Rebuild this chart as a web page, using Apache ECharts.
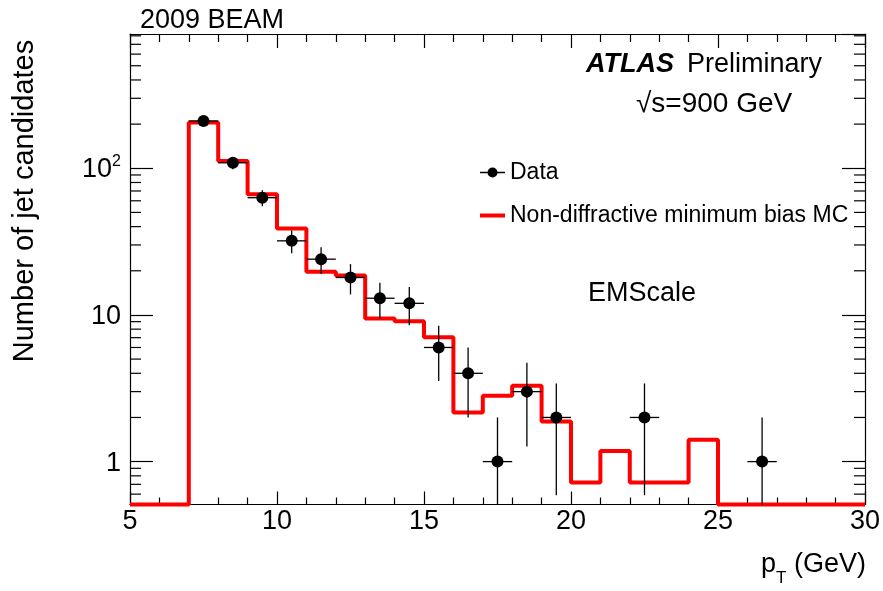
<!DOCTYPE html>
<html>
<head>
<meta charset="utf-8">
<script src="https://cdn.jsdelivr.net/npm/echarts@6/dist/echarts.min.js"></script>
<style>html,body{margin:0;padding:0;background:#fff;}#c{width:883px;height:591px;}</style>
</head>
<body>
<div id="c"></div>
<script>
// ---- data ----
const xMin = 5, xMax = 30;
const yMin = 0.51, yMax = 823;
// MC histogram: bin lower edges (width 1) and contents (0 = empty bin)
const mcBinEdges = [5,6,7,8,9,10,11,12,13,14,15,16,17,18,19,20,21,22,23,24,25,26,27,28,29,30];
const mcValues   = [0,0,205,112,66.5,38.9,19.7,18.6,9.45,9.05,7.05,2.16,2.81,3.29,1.88,0.72,1.18,0.72,0.72,1.41,0,0,0,0,0];
// Data points
const dataX   = [7.5,8.5,9.5,10.5,11.5,12.5,13.5,14.5,15.5,16.5,17.5,18.5,19.5,22.5,26.5];
const dataY   = [210,109,63,32,24,18,13,12,6,4,1,3,2,2,1];
const dataErr = [14.5,10.4,7.9,5.7,4.9,4.2,3.6,3.5,2.45,2.0,1.0,1.73,1.41,1.41,1.0];
const dataXErr = 0.5;
// y-axis minor tick values
const yMinorTicks = [0.6,0.7,0.8,0.9,2,3,4,5,6,7,8,9,20,30,40,50,60,70,80,90,200,300,400,500,600,700,800];

const FONT = 'Liberation Sans';

// build step line points
const mcPoints = mcBinEdges.map((e, i) => {
  const v = i < mcValues.length ? mcValues[i] : mcValues[mcValues.length - 1];
  return [e, v > 0 ? v : yMin];
});
const scatterData = dataX.map((x, i) => [x, dataY[i]]);
const errData = dataX.map((x, i) => [x, dataY[i], dataErr[i]]);

const chart = echarts.init(document.getElementById('c'));
const axisLineStyle = { color: '#000', width: 1.2 };

const option = {
  backgroundColor: '#fff',
  animation: false,
  textStyle: { fontFamily: FONT },
  grid: { left: 130, right: 16, top: 34, bottom: 86.5, containLabel: false },
  xAxis: [{
    type: 'value', min: xMin, max: xMax, interval: 5, position: 'bottom',
    axisLine: { show: true, lineStyle: axisLineStyle },
    axisTick: { show: true, inside: true, length: 13, lineStyle: axisLineStyle },
    minorTick: { show: true, splitNumber: 5, length: 7, lineStyle: axisLineStyle },
    splitLine: { show: false },
    axisLabel: { color: '#000', fontSize: 27, fontFamily: FONT, margin: 4 }
  }, {
    type: 'value', min: xMin, max: xMax, interval: 5, position: 'top',
    axisLine: { show: true, lineStyle: axisLineStyle },
    axisTick: { show: true, inside: true, length: 14, lineStyle: axisLineStyle },
    minorTick: { show: true, splitNumber: 5, length: 8, lineStyle: axisLineStyle },
    splitLine: { show: false },
    axisLabel: { show: false }
  }],
  yAxis: [{
    type: 'log', logBase: 10, min: yMin, max: yMax, position: 'left',
    axisLine: { show: true, lineStyle: axisLineStyle },
    axisTick: { show: true, inside: true, length: 23, lineStyle: axisLineStyle },
    splitLine: { show: false },
    axisLabel: {
      color: '#000', fontFamily: FONT, margin: 9,
      showMinLabel: false, showMaxLabel: false,
      formatter: function (v) {
        const e = Math.log10(v);
        if (Math.abs(e - Math.round(e)) > 1e-6) return '';
        const n = Math.round(e);
        if (n === 0) return '{a|1}';
        if (n === 1) return '{a|10}';
        return '{a|10}{b|' + n + '}';
      },
      rich: {
        a: { fontSize: 27, fontFamily: FONT, color: '#000', lineHeight: 30, verticalAlign: 'bottom' },
        b: { fontSize: 16, fontFamily: FONT, color: '#000', lineHeight: 16, verticalAlign: 'top' }
      }
    }
  }, {
    type: 'log', logBase: 10, min: yMin, max: yMax, position: 'right',
    axisLine: { show: true, lineStyle: axisLineStyle },
    axisTick: { show: true, inside: true, length: 23, lineStyle: axisLineStyle },
    splitLine: { show: false },
    axisLabel: { show: false }
  }],
  legend: {
    orient: 'vertical', left: 475, top: 156,
    itemWidth: 25, itemHeight: 10, itemGap: 20,
    selectedMode: false,
    textStyle: { fontSize: 23, fontFamily: FONT, color: '#000', lineHeight: 22 },
    data: [
      { name: 'Data', icon: 'path://M0,4.3H25V5.7H0Z M7.5,5A5,5 0 1,1 17.5,5A5,5 0 1,1 7.5,5Z',
        itemStyle: { color: '#000', opacity: 1 } },
      { name: 'Non-diffractive minimum bias MC',
        icon: 'path://M0,3H25V7H0Z M0,0H0.01V0.01H0Z M24.99,9.99H25V10H24.99Z',
        itemStyle: { color: '#ff0000', opacity: 1 } }
    ]
  },
  series: [
    {
      name: 'Non-diffractive minimum bias MC', type: 'line', step: 'end',
      data: mcPoints, symbol: 'none', clip: false, z: 3,
      lineStyle: { color: '#ff0000', width: 4 }, itemStyle: { color: '#ff0000' }
    },
    {
      name: 'errbars', type: 'custom', z: 4, silent: true,
      data: errData,
      renderItem: function (params, api) {
        const x = api.value(0), y = api.value(1), err = api.value(2);
        const lo = Math.max(y - err, yMin);
        const hi = y + err;
        const pLo = api.coord([x, lo]);
        const pHi = api.coord([x, hi]);
        const pL = api.coord([x - dataXErr, y]);
        const pR = api.coord([x + dataXErr, y]);
        const st = { stroke: '#000', lineWidth: 1.3 };
        return { type: 'group', children: [
          { type: 'line', shape: { x1: pLo[0], y1: pLo[1], x2: pHi[0], y2: pHi[1] }, style: st },
          { type: 'line', shape: { x1: pL[0], y1: pL[1], x2: pR[0], y2: pR[1] }, style: st }
        ] };
      }
    },
    {
      name: 'Data', type: 'scatter', data: scatterData, symbol: 'circle', symbolSize: 12, z: 5,
      itemStyle: { color: '#000', opacity: 1 }
    },
    {
      name: 'yminor', type: 'custom', silent: true, z: 1,
      data: yMinorTicks.map(v => [xMin, v]),
      renderItem: function (params, api) {
        const v = api.value(1);
        const pL = api.coord([xMin, v]);
        const pR = api.coord([xMax, v]);
        const st = { stroke: '#000', lineWidth: 1.2 };
        return { type: 'group', children: [
          { type: 'line', shape: { x1: pL[0], y1: pL[1], x2: pL[0] + 11, y2: pL[1] }, style: st },
          { type: 'line', shape: { x1: pR[0] - 11, y1: pR[1], x2: pR[0], y2: pR[1] }, style: st }
        ] };
      }
    }
  ],
  graphic: [
    { type: 'text', left: 140, top: 7, style: { text: '2009 BEAM', font: '27px "Liberation Sans"', fill: '#000' } },
    { type: 'text', x: 25, y: 201, rotation: Math.PI / 2,
      style: { text: 'Number of jet candidates', font: '29px "Liberation Sans"', fill: '#000', align: 'center', verticalAlign: 'middle' } },
    { type: 'text', left: 586, top: 51,
      style: { text: '{b|ATLAS}{n|Preliminary}', fill: '#000',
        rich: { b: { fontSize: 27, fontWeight: 'bold', fontStyle: 'italic', fontFamily: FONT },
                n: { fontSize: 27, fontFamily: FONT, padding: [0, 0, 0, 13] } } } },
    { type: 'text', left: 636, top: 90,
      style: { text: '√s=900 GeV', font: '28px "Liberation Sans"', fill: '#000' } },
    { type: 'text', left: 588, top: 280,
      style: { text: 'EMScale', font: '27px "Liberation Sans"', fill: '#000' } },
    { type: 'text', right: 17, top: 551,
      style: { text: '{p|p}{s|T}{p| (GeV)}', fill: '#000',
        rich: { p: { fontSize: 27, fontFamily: FONT, verticalAlign: 'top', lineHeight: 30 }, s: { fontSize: 17, fontFamily: FONT, verticalAlign: 'bottom', lineHeight: 30, padding: [0, 0, -6, 0] } } } }
  ]
};
chart.setOption(option);
</script>
</body>
</html>
